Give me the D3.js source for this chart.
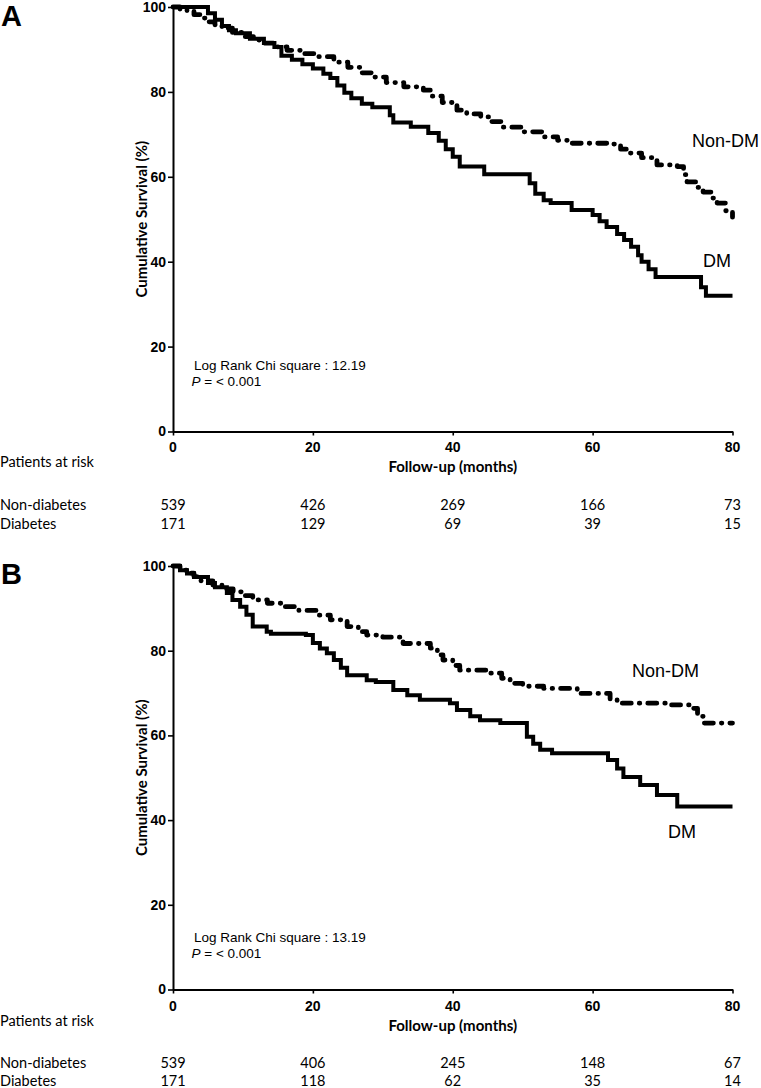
<!DOCTYPE html>
<html><head><meta charset="utf-8">
<script src="https://cdn.jsdelivr.net/npm/d3@7"></script>
<style>
body{margin:0;background:#fff;}
svg{display:block;}
</style></head>
<body>
<svg id="chart" width="761" height="1088"></svg>
<script>
// ---------- DATA ----------
const xTicks = [0, 20, 40, 60, 80];
const yTicks = [0, 20, 40, 60, 80, 100];
const riskGroups = ["Non-diabetes", "Diabetes"];

// Panel A
const monthsDM_A = [0,4,5,6,7,8,9,11,13,14.5,15.5,17,18.5,20,21.5,22.5,23.5,24.5,25.5,27,28.5,31,31.5,34,36.5,38,39,40,41,44.5,51,51.8,53,54,57,60,61,62,63.5,64.5,65.5,66.5,67,68,69,75.5,76.2,80];
const survDM_A   = [100,100,98.5,97,95.5,94.5,93.8,92.5,91.5,90.6,88.5,87.6,86.5,85.5,84.3,83.3,81.5,79.8,78.5,77.2,76.4,74.5,72.8,71.8,70.3,68.5,66.5,64.7,62.4,60.6,58.5,56,54.5,53.8,52.2,51,49.5,48.2,46.5,45.1,43.5,41.5,40,38.2,36.4,34,32,32];
const monthsNon_A = [0,1,2,3,4,5,6,7,8.5,10,11.5,13,14.7,16.3,18.5,20.6,23,25,27,28.5,30.5,33,35.8,37,38.5,40.6,42,44,45.5,47.2,50,53,55,56.8,62.5,64,65,67,69.2,72.1,73,73.5,75,75.8,77,77.8,79,80];
const survNon_A   = [100,99.5,99,98.2,97.4,96.5,95.8,95,94,93,92.2,91.5,90.6,89.8,89,88.3,87,85.8,84.5,83.5,82.2,81.2,80.4,79,77.5,75.7,74.8,74.1,73,71.7,70.6,69.4,68.6,67.9,67.7,66.5,65.6,64.5,62.8,62.4,60.5,58.8,57.5,56.4,55,53.8,52,50.5];
const riskNon_A = [539, 426, 269, 166, 73];
const riskDM_A  = [171, 129, 69, 39, 15];

// Panel B
const monthsDM_B = [0,1,2,3,5,6,7.7,8.5,9.6,10.5,11.4,13.4,14,19,20,21,22,23,24,24.9,27.7,29,31.5,33.5,35.3,39.6,40.6,42.5,43.9,46.8,50.6,51.5,52.5,54.2,62.2,63.5,64.4,66.8,69.2,72.1,80];
const survDM_B   = [100,99,98.2,97.4,96,95,93.6,92,90.4,88.5,85.7,84.5,84,83.7,81.8,80.5,79.4,77.8,76,74.2,73,72.6,70.7,69.5,68.4,67.6,66,64.5,63.6,62.9,59.7,58,56.6,55.8,54.2,52.2,50.2,48.3,45.9,43.2,43.2];
const monthsNon_B = [0,1,2,3,4,5.7,7,8.6,10,11.4,13.5,15.7,18,20.6,22.5,24.9,26.5,27.7,30,32.9,36.8,37.8,38.6,40,41,45.4,47,48.2,50,53,57.8,62.5,63.5,71.1,74,75,75.8,80];
const survNon_B   = [100,99,98.3,97.5,96.5,95.5,94.6,93.9,93,92,91.2,90.4,89.5,88.4,87.3,85.7,84.5,83.7,83.2,81.7,80.6,79,77.8,76.5,75.4,74.7,73.5,72.3,71.6,71.1,69.9,68.4,67.6,67.2,66.4,64.5,62.9,62.9];
const riskNon_B = [539, 406, 245, 148, 67];
const riskDM_B  = [171, 118, 62, 35, 14];

// ---------- DRAW ----------
const svg = d3.select("#chart");
const SANS = "'Liberation Sans', Arial, sans-serif";
const CAL = "Lato, 'Open Sans', sans-serif";

const panels = [
  {letter:"A", letterY:26, yTop:7, yBot:431.5,
   dmM:monthsDM_A, dmS:survDM_A, nonM:monthsNon_A, nonS:survNon_A,
   riskNon:riskNon_A, riskDM:riskDM_A, chi:"12.19",
   statY:365, nonLab:[692,146.5], dmLab:[703,266.5],
   tickLabY:447, titleY:467, riskHeadY:462, row1Y:505, row2Y:524},
  {letter:"B", letterY:584, yTop:566, yBot:989.5,
   dmM:monthsDM_B, dmS:survDM_B, nonM:monthsNon_B, nonS:survNon_B,
   riskNon:riskNon_B, riskDM:riskDM_B, chi:"13.19",
   statY:937, nonLab:[632,676.5], dmLab:[668,838],
   tickLabY:1006, titleY:1026, riskHeadY:1021, row1Y:1063, row2Y:1081}
];

panels.forEach(p => {
  const x = d3.scaleLinear().domain([0,80]).range([173,732.5]);
  const y = d3.scaleLinear().domain([0,100]).range([p.yBot,p.yTop]);
  const g = svg.append("g");

  // panel letter
  g.append("text").attr("x",1).attr("y",p.letterY)
    .attr("font-family",SANS).attr("font-weight","bold").attr("font-size",29)
    .text(p.letter);

  // y axis
  const ya = g.append("g").attr("transform",`translate(${x(0)},0)`)
    .call(d3.axisLeft(y).tickValues(yTicks).tickSize(5).tickSizeOuter(0).tickPadding(2));
  ya.select(".domain").attr("stroke-width",2).attr("stroke","#000");
  ya.selectAll(".tick line").attr("stroke-width",1.6);
  ya.selectAll(".tick text").attr("font-family",SANS).attr("font-weight","bold")
    .attr("font-size",14).attr("fill","#000");

  // x axis
  const xa = g.append("g").attr("transform",`translate(0,${y(0)})`)
    .call(d3.axisBottom(x).tickValues(xTicks).tickSize(4).tickSizeOuter(0).tickPadding(4));
  xa.select(".domain").attr("stroke-width",2).attr("stroke","#000");
  xa.selectAll(".tick line").attr("stroke-width",1.6);
  xa.selectAll(".tick text").remove();
  g.selectAll(".xtl").data(xTicks).enter().append("text")
    .attr("x",d=>x(d)).attr("y",p.tickLabY).attr("dy","0.35em")
    .attr("text-anchor","middle").attr("font-family",SANS).attr("font-weight","bold")
    .attr("font-size",14).text(d=>d);

  // y title
  const ymid = (p.yTop+p.yBot)/2;
  g.append("text").attr("transform",`translate(142,${ymid}) rotate(-90)`)
    .attr("text-anchor","middle").attr("dy","0.35em")
    .attr("font-family",CAL).attr("font-weight","bold").attr("font-size",15)
    .text("Cumulative Survival (%)");

  // x title
  g.append("text").attr("x",(x(0)+x(80))/2).attr("y",p.titleY).attr("dy","0.35em")
    .attr("text-anchor","middle").attr("font-family",CAL).attr("font-weight","bold")
    .attr("font-size",15).text("Follow-up (months)");

  // curves
  const line = d3.line().x(d=>x(d[0])).y(d=>y(d[1])).curve(d3.curveStepAfter);
  const dmData = p.dmM.map((m,i)=>[m,p.dmS[i]]);
  const nonData = p.nonM.map((m,i)=>[m,p.nonS[i]]);
  g.append("path").datum(nonData).attr("d",line).attr("fill","none")
    .attr("stroke","#000").attr("stroke-width",4.8)
    .attr("stroke-linecap","round").attr("stroke-linejoin","round")
    .attr("stroke-dasharray","9,8,0.5,8");
  g.append("path").datum(dmData).attr("d",line).attr("fill","none")
    .attr("stroke","#000").attr("stroke-width",4)
    .attr("stroke-linejoin","miter");

  // curve labels
  g.append("text").attr("x",p.nonLab[0]).attr("y",p.nonLab[1])
    .attr("font-family",SANS).attr("font-size",18).text("Non-DM");
  g.append("text").attr("x",p.dmLab[0]).attr("y",p.dmLab[1])
    .attr("font-family",SANS).attr("font-size",18).text("DM");

  // stats
  g.append("text").attr("x",194).attr("y",p.statY).attr("dy","0.35em")
    .attr("font-family",SANS).attr("font-size",13.5)
    .text(`Log Rank Chi square : ${p.chi}`);
  const pt = g.append("text").attr("x",191.5).attr("y",p.statY+16).attr("dy","0.35em")
    .attr("font-family",SANS).attr("font-size",13.5);
  pt.append("tspan").attr("font-style","italic").text("P");
  pt.append("tspan").text(" = < 0.001");

  // risk table
  g.append("text").attr("x",0).attr("y",p.riskHeadY).attr("dy","0.35em")
    .attr("font-family",CAL).attr("font-size",14.5).text("Patients at risk");
  const rows = [[riskGroups[0],p.riskNon,p.row1Y],[riskGroups[1],p.riskDM,p.row2Y]];
  rows.forEach(r=>{
    g.append("text").attr("x",0).attr("y",r[2]).attr("dy","0.35em")
      .attr("font-family",CAL).attr("font-size",14.5).text(r[0]);
    g.selectAll(null).data(r[1]).enter().append("text")
      .attr("x",(d,i)=>x(xTicks[i])).attr("y",r[2]).attr("dy","0.35em")
      .attr("text-anchor","middle").attr("font-family",CAL).attr("font-size",14.5)
      .text(d=>d);
  });
});
</script>
</body></html>
